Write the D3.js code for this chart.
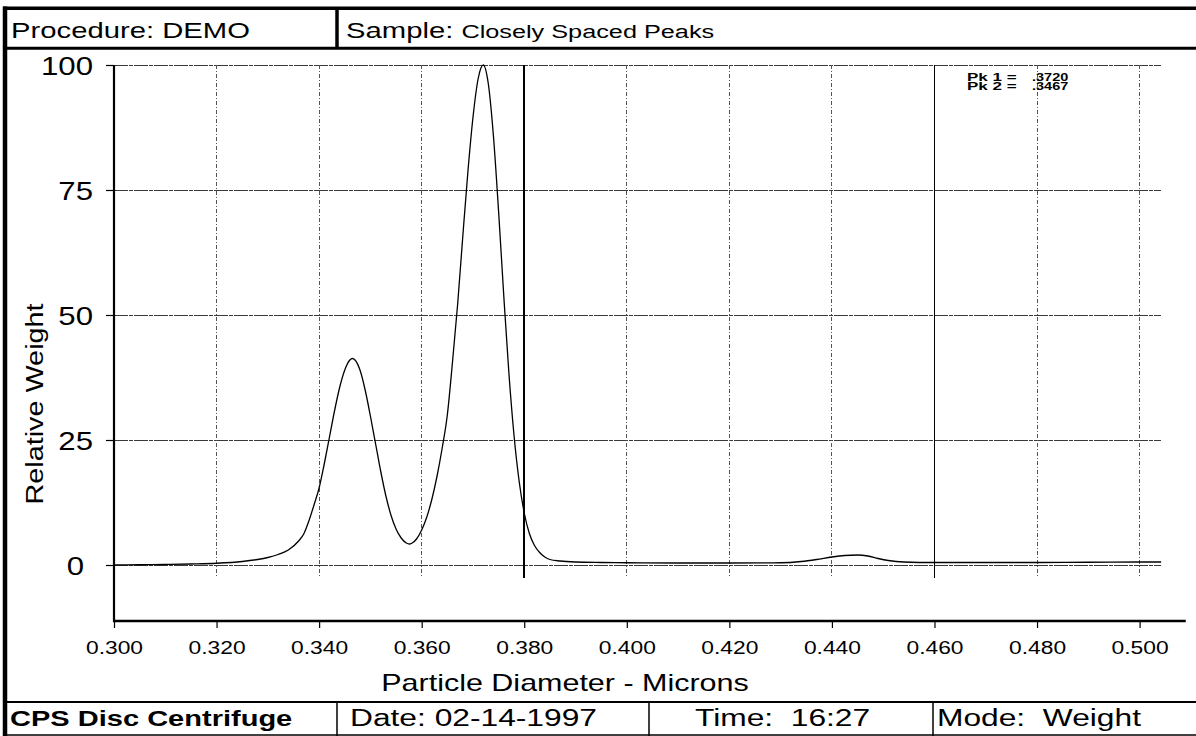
<!DOCTYPE html>
<html>
<head>
<meta charset="utf-8">
<script src="https://cdn.jsdelivr.net/npm/d3@7"></script>
<style>
	body { margin: 0; background: #fff; }
	svg text { font-family: "Liberation Sans", Arial, Helvetica, sans-serif; fill: #000; }
</style>
</head>
<body>
<div id="chart"></div>
<script>
// particle size distribution
var diameter = [
	0.300, 0.305, 0.310, 0.315, 0.320, 0.325, 0.328, 0.330, 0.332, 0.334,
	0.336, 0.337, 0.338, 0.339, 0.340, 0.341, 0.342, 0.343, 0.344, 0.345,
	0.346, 0.3465, 0.347, 0.348, 0.349, 0.350, 0.351, 0.352, 0.353, 0.354,
	0.355, 0.356, 0.357, 0.3576, 0.358, 0.359, 0.360, 0.361, 0.362, 0.363,
	0.364, 0.365, 0.366, 0.367, 0.368, 0.369, 0.370, 0.371, 0.372, 0.373,
	0.374, 0.375, 0.376, 0.377, 0.378, 0.379, 0.380, 0.381, 0.382, 0.383,
	0.384, 0.385, 0.387, 0.390, 0.395, 0.400, 0.410, 0.420, 0.430, 0.434,
	0.437, 0.440, 0.4425, 0.445, 0.447, 0.449, 0.451, 0.454, 0.460, 0.470,
	0.480, 0.490, 0.500, 0.5042
];
var weight = [
	0.0, 0.05, 0.1, 0.2, 0.35, 0.7, 1.1, 1.5, 2.1, 3.0,
	4.8, 6.2, 8.8, 12.0, 15.4, 20.2, 25.5, 30.8, 35.5, 39.0,
	41.0, 41.3, 41.0, 38.9, 34.9, 29.8, 24.3, 18.8, 13.9, 10.0,
	7.2, 5.4, 4.4, 4.2, 4.3, 5.2, 7.0, 9.6, 13.2, 17.8,
	23.4, 30.0, 40.5, 52.0, 65.5, 78.5, 89.5, 97.2, 100, 96.2,
	85.7, 70.7, 54.0, 38.5, 26.0, 16.8, 10.4, 6.3, 3.9, 2.5,
	1.6, 1.1, 0.8, 0.6, 0.5, 0.45, 0.4, 0.4, 0.45, 0.7,
	1.1, 1.6, 1.9, 2.0, 1.8, 1.3, 0.9, 0.6, 0.5, 0.5,
	0.5, 0.55, 0.6, 0.6
];
var xTicks = [0.30, 0.32, 0.34, 0.36, 0.38, 0.40, 0.42, 0.44, 0.46, 0.48, 0.50];
var yTicks = [0, 25, 50, 75, 100];
var solidGrid = [0.38, 0.46];
var peakNames = ["Pk 1 =", "Pk 2 ="];
var peakValues = [".3720", ".3467"];
var footerCells = ["Date: 02-14-1997", "Time:  16:27", "Mode:  Weight"];

var width = 1196;
var height = 736;
// the scanned printout is stretched sideways
function wide(k) { return "scale(" + k + ",1)"; }

var x = d3.scaleLinear().domain([0.3, 0.5]).range([114, 1139.6]);
var y = d3.scaleLinear().domain([-11.2, 100]).range([621, 65]);
var xAxisEnd = 0.509;
var gridEnd = 0.5042;

var svg = d3.select("#chart")
	.append("svg")
	.attr("width", width)
	.attr("height", height);

// gridlines
svg.append("g").selectAll("line")
	.data(yTicks)
	.enter().append("line")
	.attr("x1", x(0.3)).attr("x2", x(gridEnd))
	.attr("y1", function(d) { return y(d); })
	.attr("y2", function(d) { return y(d); })
	.attr("stroke", "#3a3a3a")
	.attr("stroke-width", 1)
	.attr("stroke-dasharray", "14,1,4,1")
	.attr("shape-rendering", "crispEdges");

svg.append("g").selectAll("line")
	.data(xTicks.slice(1))
	.enter().append("line")
	.attr("x1", function(d) { return x(d); })
	.attr("x2", function(d) { return x(d); })
	.attr("y1", y(100)).attr("y2", y(-2.6))
	.attr("stroke", function(d) { return solidGrid.indexOf(d) >= 0 ? "#000" : "#555"; })
	.attr("stroke-width", function(d) { return solidGrid.indexOf(d) >= 0 ? 1.6 : 1; })
	.attr("stroke-dasharray", function(d) { return solidGrid.indexOf(d) >= 0 ? null : "4,2,1,2"; })
	.attr("shape-rendering", "crispEdges");

// curve
var line = d3.line()
	.x(function(d, i) { return x(diameter[i]); })
	.y(function(d) { return y(d); })
	.curve(d3.curveMonotoneX);

svg.append("path")
	.datum(weight)
	.attr("fill", "none")
	.attr("stroke", "#000")
	.attr("stroke-width", 1.3)
	.attr("d", line);

// axes
var xAxis = svg.append("g")
	.attr("transform", "translate(0," + y(-11.2) + ")")
	.call(d3.axisBottom(x).tickValues(xTicks).tickFormat(d3.format(".3f")).tickSize(7).tickSizeOuter(0));
xAxis.select(".domain").remove();
xAxis.selectAll(".tick line").attr("stroke", "#000").attr("stroke-width", 1.2);
xAxis.selectAll(".tick text")
	.attr("y", 33).attr("dy", null)
	.attr("transform", wide(1.2))
	.style("font-size", "19px")
	.style("font-family", "'Liberation Sans', Arial, sans-serif");

var yAxis = svg.append("g")
	.attr("transform", "translate(" + x(0.3) + ",0)")
	.call(d3.axisLeft(y).tickValues(yTicks).tickSize(8).tickSizeOuter(0));
yAxis.select(".domain").remove();
yAxis.selectAll(".tick line").attr("stroke", "#000").attr("stroke-width", 1.2);
yAxis.selectAll(".tick text")
	.attr("x", 0).attr("dy", null).attr("y", 9)
	.attr("transform", function(d) {
		// the printer leaves the lone zero one digit short of the right edge
		return "translate(" + (d === 0 ? -30 : -21) + ",0) " + wide(1.2);
	})
	.style("font-size", "26px")
	.style("font-family", "'Liberation Sans', Arial, sans-serif");

svg.append("line")
	.attr("x1", x(0.3)).attr("x2", x(xAxisEnd))
	.attr("y1", y(-11.2)).attr("y2", y(-11.2))
	.attr("stroke", "#000").attr("stroke-width", 2.6);
svg.append("line")
	.attr("x1", x(0.3)).attr("x2", x(0.3))
	.attr("y1", y(100)).attr("y2", y(-11.2) + 1.3)
	.attr("stroke", "#000").attr("stroke-width", 2.2);

// axis titles
svg.append("text")
	.attr("transform", "translate(565,691) " + wide(1.27))
	.attr("text-anchor", "middle")
	.style("font-size", "24px")
	.text("Particle Diameter - Microns");

svg.append("text")
	.attr("transform", "translate(43,404) rotate(-90) " + wide(1.2))
	.attr("text-anchor", "middle")
	.style("font-size", "24px")
	.text("Relative Weight");

// peak annotation
var pk = svg.append("g").style("font-size", "10px").style("font-weight", "bold");
pk.selectAll(".pkname")
	.data(peakNames)
	.enter().append("text")
	.attr("transform", function(d, i) { return "translate(967," + (80.5 + i * 9.5) + ") " + wide(1.7); })
	.attr("xml:space", "preserve")
	.text(function(d) { return d; });
pk.selectAll(".pkval")
	.data(peakValues)
	.enter().append("text")
	.attr("transform", function(d, i) { return "translate(1032," + (80.5 + i * 9.5) + ") " + wide(1.45); })
	.text(function(d) { return d; });

// header and footer frame
var frame = [
	[3, 8.3, width, 8.3, 3.5],
	[3, 48.3, width, 48.3, 3],
	[5, 6.5, 5, height, 4.5],
	[337, 8, 337, 48, 3.5],
	[3, 702, width, 702, 2],
	[3, 735, width, 735, 1.5],
	[337, 702, 337, height, 1.5],
	[649, 702, 649, height, 1.5],
	[933, 702, 933, height, 1.5]
];
svg.append("g").selectAll("line")
	.data(frame)
	.enter().append("line")
	.attr("x1", function(d) { return d[0]; })
	.attr("y1", function(d) { return d[1]; })
	.attr("x2", function(d) { return d[2]; })
	.attr("y2", function(d) { return d[3]; })
	.attr("stroke", "#000")
	.attr("stroke-width", function(d) { return d[4]; });

svg.append("text")
	.attr("transform", "translate(11,38) " + wide(1.33))
	.style("font-size", "22px")
	.text("Procedure: DEMO");

var sample = svg.append("text")
	.attr("transform", "translate(346,38) " + wide(1.33))
	.attr("xml:space", "preserve")
	.style("font-size", "22px");
sample.append("tspan").text("Sample: ");
sample.append("tspan").style("font-size", "19px").text("Closely Spaced Peaks");

svg.append("text")
	.attr("transform", "translate(10,726) " + wide(1.32))
	.style("font-size", "22px")
	.style("font-weight", "bold")
	.text("CPS Disc Centrifuge");

var footerX = [350, 695, 937];
svg.selectAll(".foot")
	.data(footerCells)
	.enter().append("text")
	.attr("transform", function(d, i) { return "translate(" + footerX[i] + ",726) " + wide(1.38); })
	.attr("xml:space", "preserve")
	.style("font-size", "23px")
	.text(function(d) { return d; });
</script>
</body>
</html>
